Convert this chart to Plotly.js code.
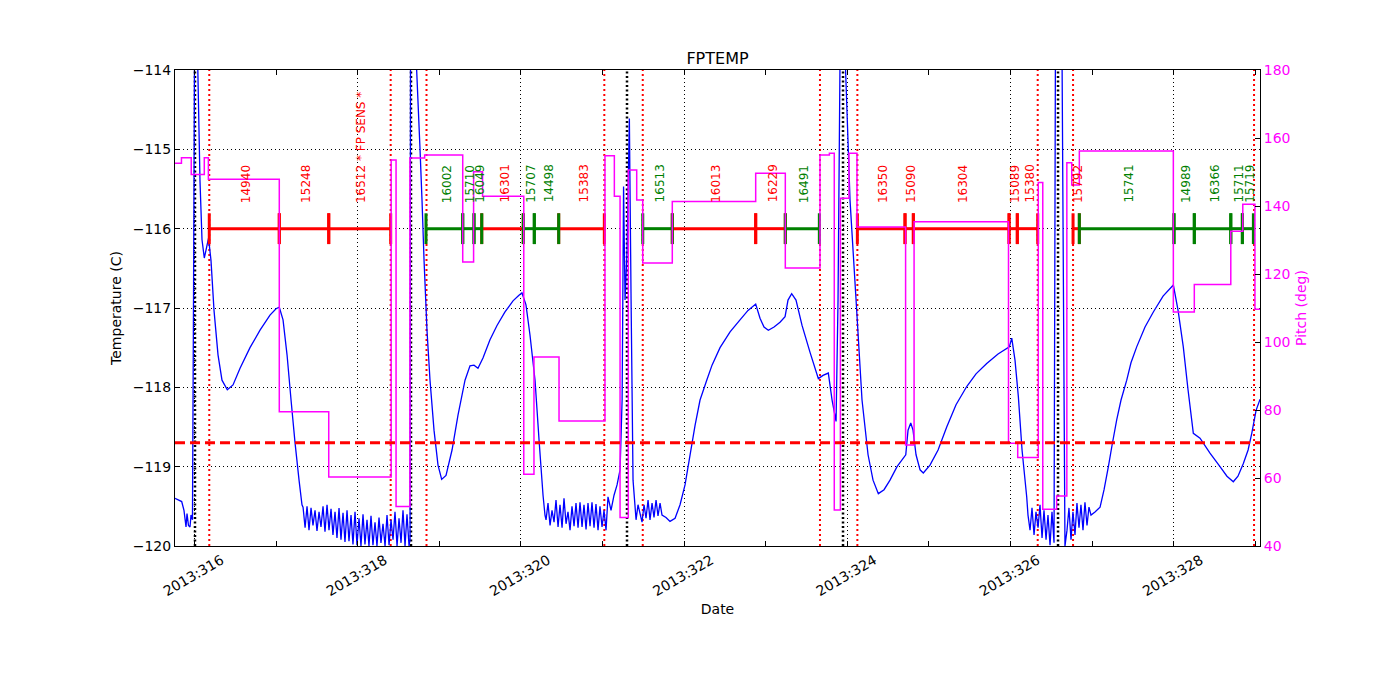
<!DOCTYPE html>
<html>
<head>
<meta charset="utf-8">
<script src="https://cdn.plot.ly/plotly-3.0.1.min.js"></script>
<style>html,body{margin:0;padding:0;background:#fff;}#chart{width:1400px;height:700px;}</style>
</head>
<body>
<div id="chart"></div>
<script>
// ---------- data (day of year 2013) ----------
const tempDay = [
315.761,315.843,315.871,315.896,315.908,315.926,315.945,315.957,315.975,315.988,316.000,316.037,316.067,316.092,316.120,316.141,316.172,316.202,316.239,316.288,316.337,316.402,316.472,316.558,316.680,316.803,316.925,316.999,317.039,317.085,317.134,317.183,317.232,317.281,317.317,
317.330,317.355,317.379,317.403,317.428,317.452,317.477,317.501,317.526,317.550,317.575,317.599,317.624,317.648,317.673,317.697,317.722,317.746,317.771,317.795,317.820,317.844,317.869,317.893,317.918,317.942,317.967,317.991,318.016,318.040,318.065,318.089,318.114,318.138,318.163,318.187,318.212,318.236,318.261,318.285,318.310,318.335,318.359,318.384,318.408,318.433,318.457,318.482,318.506,318.531,318.555,318.580,318.604,318.629,318.641,
318.647,318.714,318.764,318.788,318.813,318.849,318.886,318.935,318.984,319.029,319.082,319.156,319.229,319.315,319.376,319.425,319.474,319.535,319.621,319.707,319.805,319.903,319.976,320.013,320.062,320.111,320.173,320.222,320.271,320.295,
320.308,320.332,320.357,320.381,320.406,320.430,320.455,320.479,320.504,320.528,320.553,320.577,320.602,320.626,320.651,320.675,320.700,320.724,320.749,320.773,320.798,320.822,320.847,320.871,320.896,320.920,320.945,320.969,320.994,321.018,321.043,321.067,321.104,321.141,321.178,321.215,321.240,321.258,321.276,321.301,321.329,321.350,321.374,321.411,321.435,
321.484,321.509,321.533,321.558,321.582,321.607,321.631,321.656,321.680,321.705,321.729,321.778,321.827,321.889,321.950,322.011,322.073,322.134,322.195,322.277,322.342,322.440,322.563,322.685,322.783,322.877,322.930,322.979,323.032,323.102,323.175,323.237,323.273,323.318,323.371,323.445,323.543,323.645,323.702,323.767,323.813,323.862,323.886,323.911,323.972,
324.033,324.107,324.180,324.254,324.315,324.380,324.450,324.523,324.609,324.716,324.744,324.777,324.805,324.842,324.891,324.931,325.013,325.112,325.218,325.332,325.463,325.577,325.708,325.847,325.985,326.015,326.055,326.096,326.141,326.198,326.214,
326.239,326.263,326.288,326.312,326.337,326.361,326.386,326.410,326.435,326.459,326.484,326.508,326.533,326.550,326.631,326.667,
326.692,326.716,326.741,326.765,326.790,326.814,326.839,326.863,326.888,326.912,326.937,326.961,326.986,327.035,327.097,327.146,327.199,327.244,327.301,327.354,327.424,327.476,327.546,327.648,327.750,327.869,327.995,328.053,328.117,328.175,328.240,328.322,328.444,328.567,328.652,328.730,328.787,328.853,328.911,328.956,329.009,329.058
];
const tempC = [
-119.40,-119.44,-119.55,-119.76,-119.59,-119.74,-119.76,-119.61,-119.67,-116.90,-113.80,-113.80,-115.39,-116.14,-116.37,-116.27,-116.12,-116.40,-117.03,-117.59,-117.91,-118.03,-117.97,-117.76,-117.50,-117.28,-117.09,-117.01,-116.99,-117.15,-117.59,-118.16,-118.70,-119.17,-119.48,
-119.51,-119.77,-119.50,-119.80,-119.52,-119.74,-119.55,-119.81,-119.57,-119.76,-119.50,-119.82,-119.48,-119.80,-119.53,-119.86,-119.57,-119.90,-119.52,-119.92,-119.58,-119.95,-119.55,-119.94,-119.61,-119.98,-119.57,-119.99,-119.65,-120.00,-119.60,-119.98,-119.67,-120.00,-119.62,-119.99,-119.70,-120.00,-119.64,-119.96,-119.72,-120.00,-119.61,-119.99,-119.67,-119.92,-119.57,-120.00,-119.65,-119.96,-119.55,-120.00,-119.60,-120.00,-119.92,
-113.80,-113.80,-115.01,-115.64,-116.40,-117.28,-117.91,-118.54,-118.98,-119.16,-119.11,-118.79,-118.35,-117.91,-117.73,-117.72,-117.76,-117.63,-117.40,-117.22,-117.05,-116.91,-116.84,-116.81,-116.96,-117.34,-117.91,-118.66,-119.36,-119.61,
-119.67,-119.46,-119.74,-119.55,-119.70,-119.42,-119.76,-119.48,-119.77,-119.40,-119.72,-119.57,-119.80,-119.50,-119.75,-119.46,-119.77,-119.45,-119.76,-119.48,-119.79,-119.46,-119.75,-119.45,-119.77,-119.47,-119.80,-119.50,-119.76,-119.55,-119.80,-119.38,-119.55,-119.36,-119.23,-119.04,-118.16,-115.47,-116.90,-116.27,-114.61,-116.90,-119.17,-119.67,-119.48,
-119.70,-119.48,-119.65,-119.42,-119.67,-119.46,-119.64,-119.42,-119.62,-119.46,-119.61,-119.64,-119.69,-119.65,-119.48,-119.23,-118.85,-118.48,-118.16,-117.91,-117.72,-117.50,-117.30,-117.15,-117.03,-116.95,-117.13,-117.24,-117.28,-117.24,-117.18,-117.11,-116.90,-116.82,-116.90,-117.22,-117.56,-117.89,-117.85,-117.82,-118.16,-118.43,-116.90,-113.80,-113.80,
-115.64,-116.90,-118.16,-118.85,-119.17,-119.34,-119.29,-119.17,-119.00,-118.85,-118.54,-118.45,-118.54,-118.85,-119.04,-119.08,-118.98,-118.79,-118.50,-118.22,-117.99,-117.83,-117.70,-117.58,-117.49,-117.38,-117.66,-118.12,-118.79,-119.38,-119.61,
-119.80,-119.52,-119.86,-119.57,-119.77,-119.48,-119.90,-119.55,-119.92,-119.61,-119.99,-119.57,-119.96,-113.80,-113.80,-120.00,
-119.80,-119.52,-119.92,-119.57,-119.86,-119.46,-119.77,-119.48,-119.80,-119.45,-119.74,-119.51,-119.61,-119.57,-119.51,-119.29,-119.00,-118.73,-118.41,-118.16,-117.91,-117.69,-117.49,-117.24,-117.05,-116.85,-116.71,-117.03,-117.49,-118.03,-118.58,-118.64,-118.83,-119.00,-119.12,-119.19,-119.12,-118.96,-118.79,-118.58,-118.29,-118.15
];

// pitch: value holds from each day until the next one
const pitchDay = [315.761,315.840,315.960,316.120,316.170,317.039,317.645,318.410,318.470,318.640,318.820,319.287,319.420,319.530,320.035,320.160,320.467,321.030,321.145,321.215,321.316,321.419,321.493,321.855,322.877,323.240,323.665,323.780,323.840,323.915,324.020,324.118,324.714,324.818,325.975,326.088,326.340,326.395,326.565,326.690,326.750,326.843,327.995,328.252,328.699,328.846,328.995,329.057];
const pitchDeg = [152.6,154.2,149.3,154.2,147.9,79.5,60.3,153.5,51.6,154.1,155.0,123.5,150.1,142.9,61.1,95.6,76.8,154.8,142.9,48.4,150.6,141.8,123.2,141.3,149.6,121.8,155.0,155.5,50.6,142.3,155.5,133.8,69.7,135.4,70.2,66.0,146.9,50.8,54.7,152.7,146.2,156.2,108.8,116.9,132.6,140.5,109.6,109.6];

const obsStart = [316.181,317.039,317.645,318.837,319.287,319.425,319.520,320.029,320.164,320.463,321.493,321.855,322.877,323.240,324.123,324.707,324.809,325.982,326.083,326.766,326.843,328.003,328.252,328.699,328.841];
const obsStop  = [317.039,317.645,318.404,319.287,319.425,319.520,320.029,320.164,320.463,321.022,321.855,322.877,323.240,323.657,324.707,324.809,325.982,326.083,326.333,326.843,328.003,328.252,328.699,328.841,328.976];
const obsId    = ['14940','15248','16512 * FP SENS *','16002','15710','16049','16301','15707','14498','15383','16513','16013','16229','16491','16350','15090','16304','15089','15380','15792','15741','14989','16366','15711','15719'];
const obsGroup = ['A','A','A','B','B','B','A','B','B','A','B','A','A','B','A','A','A','A','A','A','B','B','B','B','B'];
const obsLevel = -116.0;
const obsLabelLevel = -115.70;

const perigeeDay = [316.006,318.653,321.300,323.947,326.582];
const radZoneDay = [316.181,318.404,318.843,321.022,321.493,323.665,324.123,326.333,326.766,328.984];
const planLimit = -118.7;

const xTickDays = [316,318,320,322,324,326,328];
const xTickText = xTickDays.map(d => '2013:' + d);
const xRange = [315.761, 329.057];

// ---------- styles ----------
const groupColor = {A:'#ff0000', B:'#008000'};
const FONT = 'DejaVu Sans, Bitstream Vera Sans, sans-serif';

const traces = [];
traces.push({x: tempDay, y: tempC, type:'scatter', mode:'lines',
  line:{color:'#0000ff', width:1.3, simplify:false}, hoverinfo:'skip', showlegend:false});

['A','B'].forEach(g => {
  const lx = [], ly = [], tx = [], ty = [];
  obsStart.forEach((s, i) => {
    if (obsGroup[i] !== g) return;
    lx.push(s, obsStop[i], null); ly.push(obsLevel, obsLevel, null);
    tx.push(s, obsStop[i]); ty.push(obsLevel, obsLevel);
  });
  traces.push({x: lx, y: ly, type:'scatter', mode:'lines',
    line:{color:groupColor[g], width:3}, hoverinfo:'skip', showlegend:false});
  traces.push({x: tx, y: ty, type:'scatter', mode:'markers',
    marker:{symbol:'line-ns', size:22, line:{color:groupColor[g], width:3}},
    hoverinfo:'skip', showlegend:false});
});

traces.push({x: pitchDay, y: pitchDeg, type:'scatter', mode:'lines', yaxis:'y2',
  line:{color:'#ff00ff', width:1.5, shape:'hv'}, hoverinfo:'skip', showlegend:false});

const shapes = [];
radZoneDay.forEach(d => shapes.push({type:'line', xref:'x', yref:'paper', x0:d, x1:d, y0:0, y1:1,
  layer:'between', line:{color:'#ff0000', width:2, dash:'2px,3px'}}));
perigeeDay.forEach(d => shapes.push({type:'line', xref:'x', yref:'paper', x0:d, x1:d, y0:0, y1:1,
  layer:'between', line:{color:'#000000', width:2.5, dash:'2px,2.5px'}}));
shapes.push({type:'line', xref:'paper', yref:'y', x0:0, x1:1, y0:planLimit, y1:planLimit,
  layer:'above', line:{color:'#ff0000', width:3, dash:'10px,5px'}});

const annotations = obsId.map((id, i) => ({
  x: (obsStart[i] + obsStop[i]) / 2, y: obsLabelLevel, xref:'x', yref:'y',
  text: id, textangle: -90, showarrow:false, xanchor:'center', yanchor:'bottom', xshift:2,
  font:{family:FONT, size:12, color:groupColor[obsGroup[i]]}
}));

const layout = {
  width:1400, height:700,
  margin:{l:175, r:140, t:70, b:154, pad:0},
  paper_bgcolor:'#ffffff', plot_bgcolor:'#ffffff',
  font:{family:FONT, size:14, color:'#000000'},
  title:{text:'FPTEMP', font:{family:FONT, size:16, color:'#000'}, x:0.5, xref:'paper', xanchor:'center',
    y:1-58/700, yref:'container', yanchor:'middle'},
  showlegend:false,
  xaxis:{range:xRange, tickmode:'array', tickvals:xTickDays, ticktext:xTickText, tickangle:-30,
    ticklabelshift:27,
    ticks:'inside', ticklen:5, tickwidth:1, tickcolor:'#000',
    showline:true, linecolor:'#000', linewidth:1, mirror:'ticks',
    showgrid:true, gridcolor:'#000', gridwidth:1, griddash:'1px,3px', zeroline:false,
    tickfont:{family:FONT, size:14, color:'#000'},
    minor:{tickmode:'linear', tick0:315, dtick:1, ticks:'inside', ticklen:5, tickcolor:'#000', showgrid:false},
    title:{text:'Date', font:{family:FONT, size:14, color:'#000'}, standoff:6}},
  yaxis:{range:[-120,-114], dtick:1, tick0:-120, ticks:'inside', ticklen:5, tickcolor:'#000',
    showline:true, linecolor:'#000', linewidth:1, mirror:true,
    showgrid:true, gridcolor:'#000', gridwidth:1, griddash:'1px,3px', zeroline:false,
    tickfont:{family:FONT, size:14, color:'#000'},
    title:{text:'Temperature (C)', font:{family:FONT, size:14, color:'#000'}, standoff:7}},
  yaxis2:{range:[40,180], dtick:20, tick0:40, overlaying:'y', side:'right', ticks:'inside', ticklen:5, tickcolor:'#000',
    showline:true, linecolor:'#000', linewidth:1, showgrid:false, zeroline:false,
    tickfont:{family:FONT, size:14, color:'#ff00ff'},
    title:{text:'Pitch (deg)', font:{family:FONT, size:14, color:'#ff00ff'}, standoff:6}},
  shapes: shapes,
  annotations: annotations
};

Plotly.newPlot('chart', traces, layout, {displayModeBar:false, staticPlot:true});
</script>
</body>
</html>
